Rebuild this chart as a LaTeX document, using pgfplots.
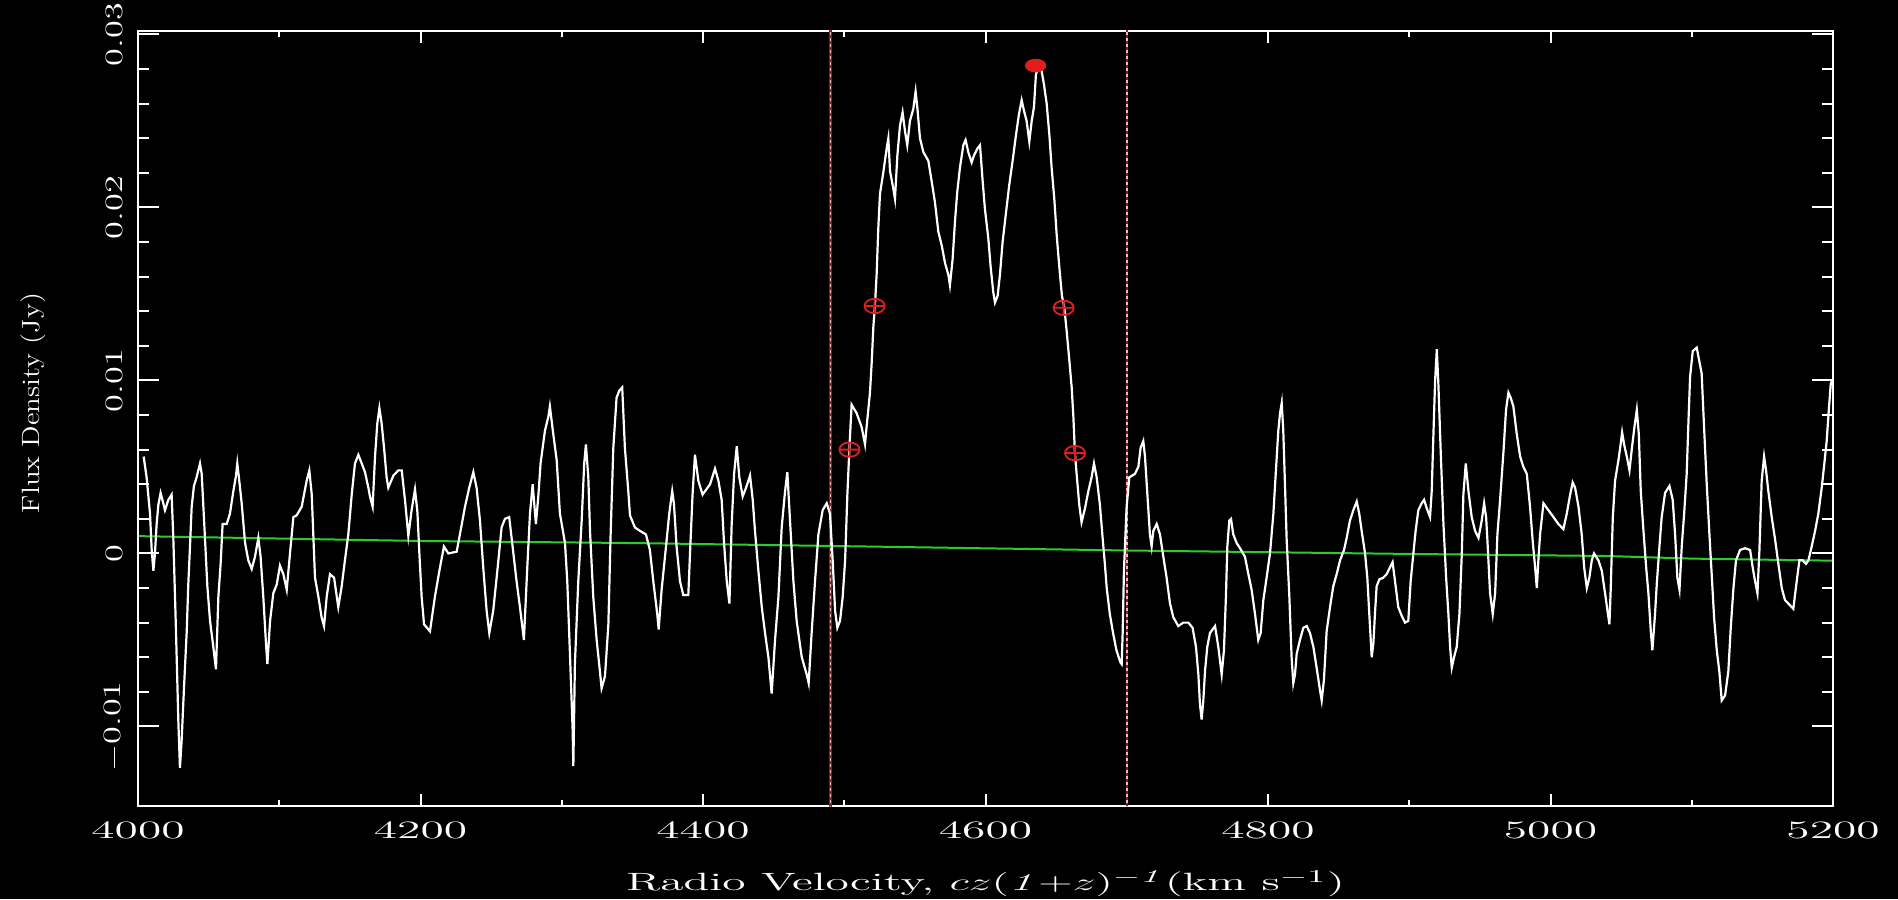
\documentclass[border=0pt]{standalone}
\usepackage{pgfplots}
\pgfplotsset{compat=1.18}
\usepackage{graphicx}
\definecolor{specgreen}{RGB}{40,205,40}
\definecolor{markred}{RGB}{225,30,30}
\definecolor{linered}{RGB}{160,20,20}
\definecolor{linepink}{RGB}{235,190,190}
\newcommand{\xs}[1]{\scalebox{1.9}[1]{#1}}
\newcommand{\ys}[1]{\scalebox{1.45}[1]{#1}}
\newcommand{\yls}[1]{\scalebox{1.15}[1]{#1}}
\newcommand{\lab}{\fontsize{12.5}{15}\selectfont}

\begin{document}
\begin{tikzpicture}
\fill[black] (-69pt,-46.5pt) rectangle (880pt,403pt);
\path[use as bounding box] (-69pt,-46.5pt) rectangle (880pt,403pt);

% x axis, data
\begin{axis}[
  at={(0,0)}, anchor=south west,
  scale only axis, width=847.5pt, height=387.5pt,
  xmin=4000, xmax=5200, ymin=-14.6, ymax=30.2,
  axis line style={white, line width=1pt},
  tick style={white, line width=1pt},
  major tick length=6pt, minor tick length=3pt,
  xtick={4000,4200,4400,4600,4800,5000,5200},
  xticklabels={{\xs{4000}},{\xs{4200}},{\xs{4400}},{\xs{4600}},{\xs{4800}},{\xs{5000}},{\xs{5200}}},
  minor x tick num=1,
  ytick=\empty,
  xticklabel style={text=white, font=\lab, anchor=center, yshift=-12pt},
  xlabel={\xs{Radio Velocity, $cz(\mathit{1}{+}z)^{-\mathit{1}}$(km s$^{-1}$)}},
  xlabel style={text=white, font=\lab, at={(axis description cs:0.5,-0.1006)}, anchor=center},
]

% channel range limits
\addplot[linered, line width=1.1pt] coordinates {(4490.2,-20) (4490.2,40)};
\addplot[linepink, line width=0.7pt, dash pattern=on 1.5pt off 1.5pt] coordinates {(4490.2,-20) (4490.2,40)};
\addplot[linered, line width=1.1pt] coordinates {(4700.2,-20) (4700.2,40)};
\addplot[linepink, line width=0.7pt, dash pattern=on 1.5pt off 1.5pt] coordinates {(4700.2,-20) (4700.2,40)};

% baseline fit
\addplot[specgreen, line width=1pt] coordinates {
(4000,1.0)(4200,0.72)(4350,0.6)(4500,0.42)(4700,0.17)(4900,-0.03)(5040,-0.15)(5100,-0.3)(5200,-0.42)};

% spectrum (mJy)
\addplot[white, line width=1.1pt, sharp plot] coordinates {
(4004,5.6)(4006.1,4.4)(4008.5,2.3)(4009.7,0.2)(4010.9,-1.0)(4012,0.0)(4013.2,1.7)(4014.4,2.8)(4016,3.5)(4017.9,2.9)(4019.1,2.5)(4021.5,3.1)(4023.8,3.4)(4025,0.9)(4026.9,-4.5)(4028.6,-9.8)(4029.7,-12.4)(4030.9,-10.8)(4032.6,-7.7)(4034.5,-4.5)(4035.6,-1.8)(4036.8,0.4)(4038,2.7)(4039.6,3.9)(4041.5,4.4)(4043.9,5.2)(4045.1,4.6)(4047.4,0.9)(4049.1,-1.9)(4051,-3.9)(4053.3,-5.4)(4055.2,-6.7)(4056.9,-2.5)(4058.5,-0.6)(4059.9,1.7)(4062.8,1.7)(4065.1,2.3)(4067.5,3.6)(4069.4,4.5)(4070.3,5.2)(4071.7,4.2)(4073.4,2.9)(4075.8,0.6)(4078.1,-0.4)(4080.5,-0.9)(4082.8,-0.2)(4085.2,0.9)(4086.8,-0.2)(4088.7,-2.5)(4090.6,-5.2)(4091.6,-6.4)(4093.5,-3.9)(4095.8,-2.3)(4098.2,-1.8)(4100.5,-0.7)(4102.9,-1.2)(4105.3,-2.1)(4107.6,0.0)(4110,2.1)(4112.3,2.2)(4115.9,2.7)(4119.4,4.2)(4121.3,4.8)(4123,3.4)(4125.3,-1.4)(4127.7,-2.5)(4130,-3.7)(4131.7,-4.2)(4133.6,-2.5)(4135.9,-1.2)(4138.8,-1.4)(4141.8,-3.1)(4144.2,-1.9)(4146.5,-0.4)(4148.9,1.1)(4151.3,3.4)(4153.6,5.2)(4156,5.7)(4158.4,5.2)(4160.7,4.7)(4163.1,3.8)(4164.2,3.3)(4166.1,2.7)(4167.8,5.6)(4169.4,7.5)(4170.9,8.4)(4172.5,7.5)(4174.2,6.1)(4176,4.4)(4177.2,3.8)(4180.8,4.5)(4184.3,4.8)(4186.7,4.8)(4189,3.1)(4191.4,1.0)(4193.7,2.5)(4196.1,3.7)(4197.8,2.4)(4199.2,0.0)(4200.8,-2.5)(4202.5,-4.1)
(4206.7,-4.5)(4210.2,-2.5)(4213.8,-0.8)(4216.6,0.4)(4219.7,0.0)(4225.6,0.1)(4227.9,1.1)(4231.5,2.7)(4234.5,3.8)(4237.4,4.7)(4239.7,3.8)(4242.1,1.9)(4244.4,-0.8)(4246.8,-3.3)(4248.7,-4.6)(4251.5,-3.3)(4254.4,-1.0)(4257.4,1.5)(4259.8,2.0)(4262.8,2.1)(4265.2,0.4)(4268,-1.6)(4270.4,-3.1)(4273.2,-5.0)(4275.6,-0.8)(4277.5,2.3)(4279.4,4.0)(4281.7,1.7)(4283.4,3.3)(4285,5.2)(4288.1,7.1)(4290.5,7.9)(4291.6,8.5)(4294,6.9)(4296.4,5.4)(4298.7,2.3)(4302.3,0.6)(4303.9,-1.6)(4305.8,-5.8)(4307.7,-10.2)(4308.2,-12.3)(4309.3,-6.4)(4311.7,-1.6)(4314.1,1.9)(4315.9,5.2)(4317.1,6.3)(4318.8,4.4)(4320,1.3)(4322.3,-2.5)(4324.7,-5.0)(4327,-6.8)(4328.2,-7.8)(4330.6,-7.1)(4333,-4.1)(4334.6,1.1)(4336.5,6.1)(4338.8,9.0)(4340.7,9.4)(4342.8,9.6)(4344.7,6.1)(4347.1,3.6)(4348.3,2.2)(4351.8,1.5)(4355.4,1.3)(4359.6,1.1)(4362.4,0.2)(4364.8,-1.6)(4367.6,-3.5)(4368.6,-4.4)(4370.7,-2.1)(4373.8,0.4)(4376.1,2.3)(4378.2,3.6)(4379.4,2.9)(4381.3,0.4)(4383.7,-1.6)(4386,-2.4)(4389.6,-2.4)(4390.8,0.0)(4392.6,3.4)(4394.3,5.7)(4396.7,4.2)(4399.7,3.4)
(4405,4.0)(4408.5,4.9)(4410.9,4.2)(4413.2,3.1)(4414.9,0.6)(4416.8,-1.6)(4418.7,-2.9)(4420.3,1.7)(4422,4.6)(4423.9,6.2)(4425.7,4.4)(4428.1,3.3)(4430.5,3.8)(4433.3,4.5)(4435.2,3.1)(4436.8,1.3)(4439.2,-1.0)(4441.6,-3.1)(4443.9,-4.6)(4446.3,-6.0)(4448.6,-8.1)(4451,-5.0)(4453.4,-2.5)(4455.7,1.5)(4458.1,3.6)(4459.7,4.7)(4461.6,1.9)(4464,-1.6)(4466.3,-3.9)(4469.9,-6.0)(4473.4,-7.0)(4474.8,-7.5)(4476.9,-4.6)(4479.3,-1.6)(4481.7,1.1)(4484.7,2.5)(4487.6,2.9)(4489.9,2.3)(4491.8,-0.4)(4493.5,-3.3)(4495.1,-4.3)(4497,-3.9)(4498.9,-2.5)(4500.6,-0.4)(4502.2,3.4)(4503.6,6.0)
(4505.2,8.6)(4508.8,8.1)(4512.3,7.3)(4514.7,6.3)(4515.8,7.3)(4518.2,9.3)(4519.4,11.0)(4520.6,13.1)(4521.7,14.3)(4522.9,16.1)(4524.1,18.8)(4525.3,20.8)(4527.6,22.0)(4530,23.4)(4531.2,24.0)(4532.4,22.1)(4534.7,21.1)(4535.9,20.5)(4537.6,23.0)(4539.4,24.7)(4541.3,25.5)(4543,24.4)(4544.6,23.6)(4546.5,25.0)(4548.9,25.7)(4550.5,26.7)(4551.7,25.8)(4553.6,24.0)(4556,23.2)(4559.5,22.7)(4561.9,21.5)(4564.2,20.3)(4566.6,18.6)(4569,17.8)(4571.3,16.8)(4573.7,16.1)(4574.8,15.5)(4576.7,17.0)(4578.4,19.2)(4580,20.9)(4581.9,22.3)(4584.3,23.6)(4585.9,23.9)(4587.8,23.2)(4590.2,22.6)(4591.8,23.0)(4594.2,23.4)(4596.1,23.6)(4598,21.5)(4599.6,19.9)(4602,18.2)(4603.6,16.6)(4605.5,15.1)(4606.7,14.5)(4608.6,14.9)(4610.2,16.1)(4612.1,18.0)(4614.5,19.7)(4616.8,21.3)(4619.2,22.7)(4621.6,24.2)(4623.7,25.4)(4625.6,26.2)(4627.2,25.6)(4629.1,25.0)(4631,23.8)(4632.7,25.0)(4634.3,25.8)(4635.7,27.7)(4637.4,28.1)(4639.7,27.9)(4641.4,27.1)(4643.3,26.0)(4645.2,24.2)(4646.8,22.3)(4648.7,20.5)(4650.4,18.4)(4652.2,16.6)(4654.1,14.9)(4655.8,14.2)(4657.4,12.9)(4659.3,11.2)(4661,9.6)(4662.2,7.9)(4663.3,5.8)(4664.5,4.6)(4666.4,2.8)(4668,1.8)(4670.4,2.6)(4672.8,3.6)(4675.1,4.4)(4676.8,5.2)(4678.7,4.4)(4681,2.8)(4682.9,0.9)(4684.6,-0.7)
(4685.8,-2.0)(4688,-3.5)(4690.3,-4.6)(4692.7,-5.6)(4695.5,-6.3)(4696.4,-6.4)(4697.1,-4.6)(4698,-1.0)(4699.9,2.7)(4701.8,4.4)(4705.8,4.6)(4708.2,5.0)(4709.8,6.1)(4711.7,6.5)(4712.9,5.6)(4714.6,3.4)(4716.4,1.1)(4717.6,0.4)(4718.8,1.3)(4721.2,1.7)(4723.5,1.1)(4725.9,-0.2)(4728.2,-1.4)(4730.6,-2.9)(4733,-3.7)(4736.5,-4.2)(4740,-4.0)(4743.6,-4.0)(4746.6,-4.3)(4749,-5.4)(4750.7,-7.0)(4751.8,-8.7)(4753,-9.6)(4754.2,-8.5)(4755.4,-6.8)(4757,-5.4)(4758.9,-4.6)(4762.5,-4.2)(4764.8,-5.4)(4767.2,-7.0)(4768.8,-5.6)(4770.2,-2.5)(4771.2,0.4)(4772.6,1.9)(4773.8,2.0)(4775.4,1.1)(4777.8,0.6)(4780.2,0.3)(4783.7,-0.2)(4786.1,-1.2)(4788.4,-2.1)(4790.8,-3.5)(4793.1,-5.0)(4794.8,-4.6)(4796.7,-2.7)(4799,-1.4)(4801.4,0.0)(4803.8,2.3)(4805.6,4.8)(4807.3,7.1)(4808.5,8.1)(4809.7,8.7)(4810.8,7.1)(4812,4.0)(4813.2,0.8)(4815.1,-2.5)(4816.7,-6.0)(4817.9,-7.5)(4819.1,-7.0)(4820.3,-5.8)(4822.6,-5.0)(4825,-4.3)(4827.4,-4.2)(4829.7,-4.6)(4832.1,-5.4)(4834.4,-6.6)(4836.8,-7.9)(4838,-8.5)(4839.6,-7.3)(4841.5,-4.5)(4843.9,-3.1)(4846.2,-1.9)(4848.6,-1.2)(4851,-0.4)(4853.8,0.2)(4855.7,0.9)(4858,1.9)(4860.4,2.5)(4862.8,3.0)(4864.6,2.3)(4866.3,1.3)(4868.7,0.0)(4870.3,-1.4)(4871.7,-3.5)(4873.4,-6.0)(4874.6,-5.2)(4875.7,-3.5)(4876.9,-1.9)(4878.8,-1.5)(4881.6,-1.4)(4884,-1.2)(4886.4,-0.8)(4888.2,-0.5)(4889.9,-1.6)(4892.2,-3.1)(4894.6,-3.6)(4897,-4.0)(4899.3,-3.9)(4901,-1.6)(4902.9,0.0)(4904.5,1.3)(4906.4,2.5)
(4908.8,2.9)(4910.5,3.1)(4912.4,2.6)(4914.7,2.1)(4915.9,3.6)(4917.1,6.9)(4918.3,10.0)(4919.5,11.8)(4920.6,9.8)(4922.3,5.8)(4924.2,1.7)(4926.1,-1.4)(4927.7,-3.5)(4928.9,-5.4)(4930.1,-6.6)(4931.7,-6.0)(4933.6,-5.4)(4935.5,-3.5)(4937.2,0.0)(4938.3,3.4)(4940,5.2)(4941.9,3.6)(4944.2,2.1)(4946.6,1.3)(4949,0.9)(4951.3,1.9)(4953,2.9)(4954.4,2.1)(4955.3,0.8)(4957.2,-2.3)(4959.1,-3.5)(4960.8,-2.3)(4962.4,1.1)(4964.3,3.1)(4966.7,5.9)(4968.5,8.3)(4970.2,9.3)(4971.8,9.0)(4973.7,8.5)(4976.1,6.9)(4978.5,5.6)(4980.8,5.0)(4983.2,4.6)(4985.5,2.7)(4987.4,0.7)(4989.1,-0.8)(4990.3,-2.0)(4991.4,-0.4)(4992.6,1.1)(4995,2.9)(4998.5,2.5)(5002.1,2.1)(5005.6,1.7)(5009.1,1.4)(5011.5,2.3)(5013.9,3.4)(5015.7,4.1)(5017.4,3.8)(5019.8,2.7)(5022.1,1.1)(5023.8,-0.8)(5025.7,-2.0)(5027.5,-1.4)(5029.2,-0.4)(5030.8,0.0)(5033.9,-0.4)(5036.3,-1.0)(5038.6,-2.3)(5040.3,-3.3)(5041.7,-4.1)(5042.6,-2.1)(5044.1,2.1)(5045.7,4.2)(5048.1,5.4)(5049.3,6.1)(5050.7,7.0)(5052.1,6.3)(5054,5.6)(5055.9,4.8)(5057.5,6.0)(5059.4,7.3)(5061.1,8.3)(5062.5,6.9)(5063.9,3.6)(5065.8,1.3)(5067.7,-0.8)(5069.3,-2.3)(5071,-4.5)(5072.1,-5.6)(5074,-3.5)(5075.2,-1.8)(5077.1,0.4)(5078.7,2.1)(5081.1,3.5)(5084.2,3.9)(5086.5,3.1)(5088.2,1.1)(5089.8,-1.4)(5091.3,-2.1)(5092.9,0.4)(5094.6,2.3)(5096.4,4.6)(5097.6,7.5)(5098.8,10.2)(5100.7,11.7)(5103.5,11.9)
(5107,10.4)(5108.7,7.3)(5110.6,4.0)(5112.5,1.1)(5114.1,-1.2)(5115.8,-3.7)(5117.7,-5.6)(5119.5,-6.8)(5121.2,-8.5)(5123.6,-8.2)(5125.9,-6.8)(5127.6,-4.3)(5129.5,-2.0)(5131.3,-0.4)(5134.2,0.2)(5137.7,0.3)(5141.3,0.2)(5143.1,-0.8)(5144.8,-1.6)(5146.5,-2.3)(5147.9,0.2)(5149.5,4.2)(5151.2,5.6)(5152.6,4.8)(5154.2,3.6)(5156.6,2.1)(5159,0.8)(5161.3,-0.6)(5163.7,-2.0)(5166,-2.7)(5168.4,-2.9)(5171.9,-3.2)(5174.3,-1.6)(5176.2,-0.4)(5178.5,-0.4)(5180.9,-0.6)(5182.6,-0.4)(5184.9,0.4)(5187.3,1.3)(5189.6,2.3)(5192,3.8)(5193.6,5.0)(5195.5,6.5)(5197.2,8.5)(5198.4,9.8)(5199.3,10.0)};

% line edges and peak
\addplot[only marks, mark=oplus, mark size=3.6pt, color=markred, mark options={xscale=1.4, line width=0.9pt}]
  coordinates {(4503.7,6.0)(4521.5,14.3)(4655.3,14.2)(4663.4,5.8)};
\addplot[only marks, mark=*, mark size=3.2pt, color=markred, mark options={xscale=1.6}]
  coordinates {(4635.5,28.2)};
\end{axis}

% y axis ticks and labels
\begin{axis}[
  at={(0,0)}, anchor=south west,
  scale only axis, width=847.5pt, height=387.5pt,
  xmin=4000, xmax=5200, ymin=-14.6, ymax=30.2,
  hide x axis,
  axis line style={white, line width=1pt},
  tick style={white, line width=1pt},
  major tick length=10.5pt, minor tick length=5.5pt,
  ytick={-10,0,10,20,30},
  yticklabels={{\ys{$-$0.01}},{\ys{0}},{\ys{0.01}},{\ys{0.02}},{\ys{0.03}}},
  minor y tick num=4,
  yticklabel style={text=white, font=\lab, rotate=90, anchor=south, inner ysep=7.5pt},
  ylabel={\yls{Flux Density (Jy)}},
  ylabel style={text=white, font=\lab, at={(axis description cs:-0.062,0.52)}, anchor=center},
]
\end{axis}
\end{tikzpicture}
\end{document}
